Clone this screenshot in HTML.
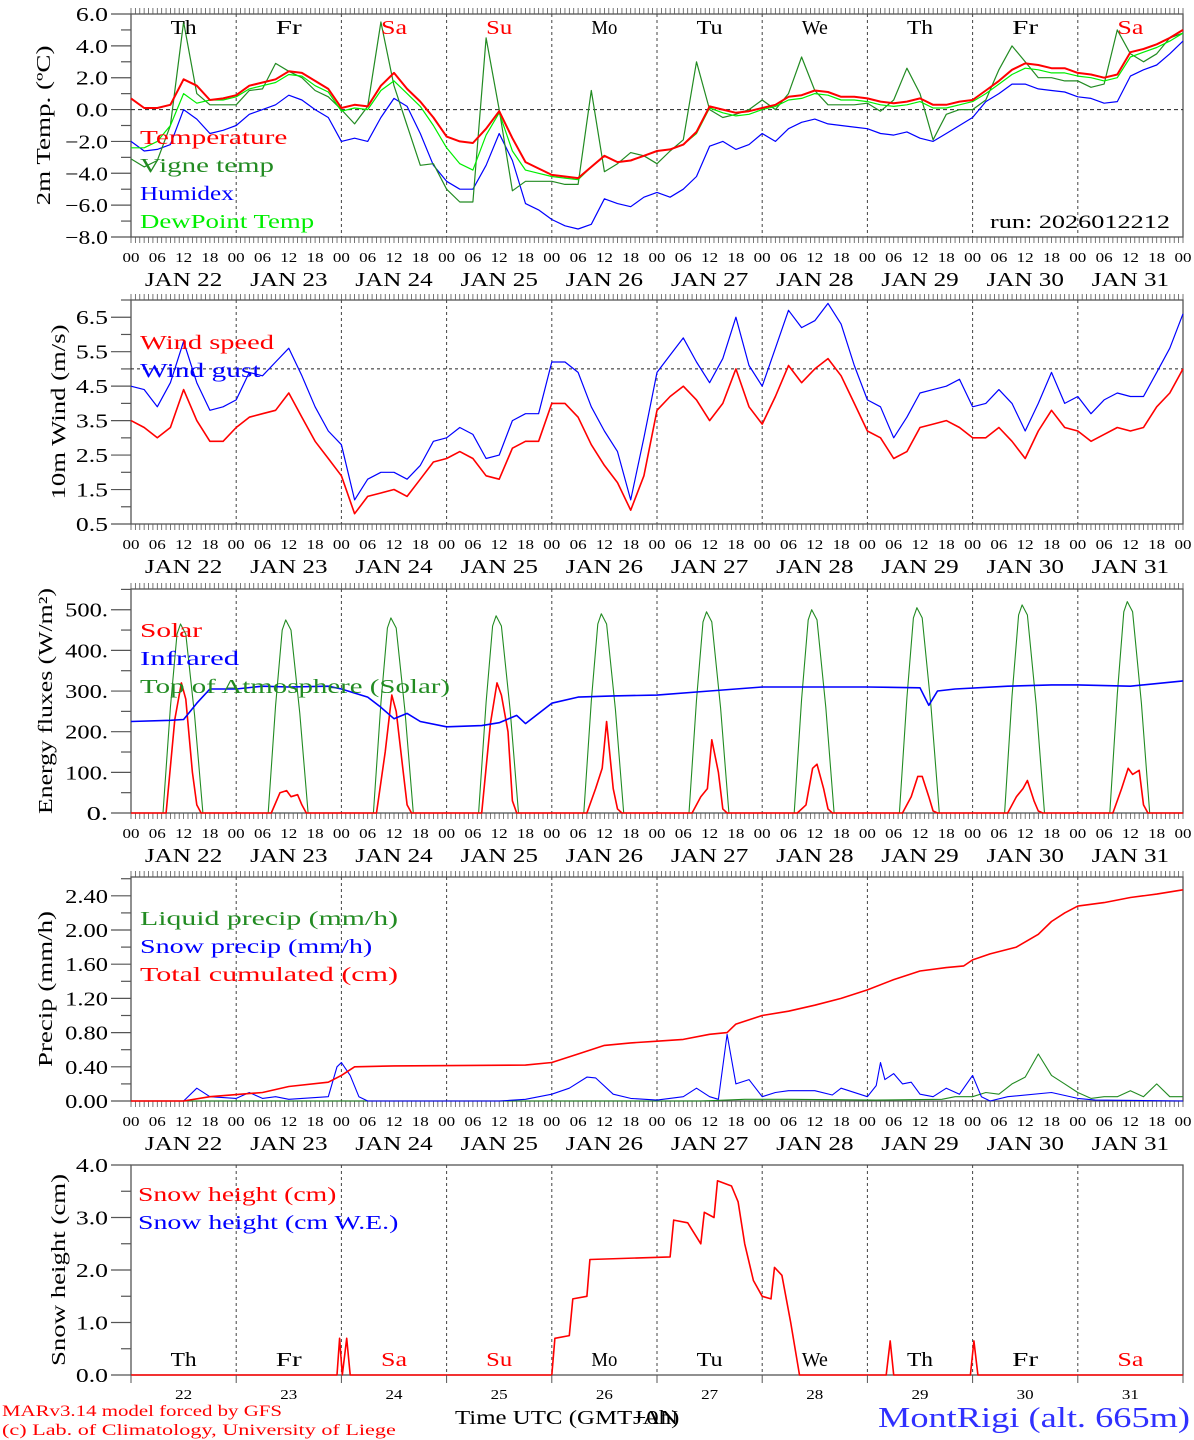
<!DOCTYPE html>
<html><head><meta charset="utf-8">
<style>
html,body{margin:0;padding:0;background:#fff;}
svg{display:block;font-family:"Liberation Serif",serif;}
</style></head>
<body>
<svg id="chart" width="1194" height="1440" viewBox="0 0 1194 1440" xmlns="http://www.w3.org/2000/svg"></svg>
<script>
// ---------- DATA ----------
const dayNames = ["Th","Fr","Sa","Su","Mo","Tu","We","Th","Fr","Sa"];
const weekendFlags = [0,0,1,1,0,0,0,0,0,1];
const dateLabels = ["JAN 22","JAN 23","JAN 24","JAN 25","JAN 26","JAN 27","JAN 28","JAN 29","JAN 30","JAN 31"];
const dayNums = ["22","23","24","25","26","27","28","29","30","31"];
const hourLabels = ["00","06","12","18"];

// panel 1 (3-hourly, t = 0..240 h)
const tempRed = [0.7,0.1,0.1,0.3,1.9,1.5,0.6,0.7,0.9,1.5,1.7,1.9,2.4,2.3,1.8,1.3,0.1,0.3,0.2,1.5,2.3,1.3,0.5,-0.5,-1.7,-2.0,-2.1,-1.2,-0.1,-1.8,-3.3,-3.7,-4.1,-4.2,-4.3,-3.6,-2.9,-3.3,-3.2,-2.9,-2.6,-2.5,-2.2,-1.4,0.2,0.0,-0.2,-0.1,0.1,0.3,0.8,0.9,1.2,1.1,0.8,0.8,0.7,0.5,0.4,0.5,0.7,0.3,0.3,0.5,0.6,1.2,1.8,2.5,2.9,2.8,2.6,2.6,2.3,2.2,2.0,2.2,3.6,3.8,4.1,4.5,5.0];
const vigneTemp = [-3.1,-3.6,-3.2,-1.0,5.5,1.0,0.3,0.3,0.3,1.2,1.3,2.9,2.4,2.0,1.2,0.8,0.0,-0.9,0.2,5.5,1.5,-1.0,-3.5,-3.4,-5.0,-5.8,-5.8,4.5,0.0,-5.1,-4.5,-4.5,-4.5,-4.7,-4.7,1.2,-3.9,-3.4,-2.7,-2.9,-3.4,-2.6,-1.9,3.0,0.0,-0.5,-0.3,0.0,0.6,0.0,1.0,3.3,1.2,0.3,0.3,0.3,0.4,-0.1,0.6,2.6,1.0,-1.9,-0.3,0.0,0.0,0.6,2.5,4.0,3.0,2.0,2.0,1.8,1.8,1.4,1.6,5.0,3.5,3.0,3.5,4.5,4.8];
const humidex = [-2.0,-2.6,-2.5,-2.2,0.0,-0.6,-1.5,-1.3,-1.0,-0.3,0.0,0.3,0.9,0.6,0.0,-0.5,-2.0,-1.8,-2.0,-0.5,0.7,0.2,-1.5,-3.5,-4.5,-5.0,-5.0,-3.5,-1.5,-3.2,-5.9,-6.3,-6.9,-7.3,-7.5,-7.2,-5.6,-5.9,-6.1,-5.5,-5.2,-5.5,-5.0,-4.2,-2.3,-2.0,-2.5,-2.2,-1.5,-2.0,-1.2,-0.8,-0.6,-0.9,-1.0,-1.1,-1.2,-1.5,-1.6,-1.4,-1.8,-2.0,-1.5,-1.0,-0.5,0.5,1.0,1.6,1.6,1.3,1.2,1.1,0.8,0.7,0.4,0.5,2.1,2.5,2.8,3.5,4.3];
const dewPoint = [-2.4,-2.4,-2.0,-1.0,1.0,0.4,0.6,0.6,0.8,1.3,1.5,1.7,2.2,2.1,1.5,1.1,-0.1,0.1,0.0,1.2,1.8,1.0,0.2,-1.0,-2.4,-3.4,-3.8,-1.6,-0.2,-2.6,-3.8,-4.0,-4.2,-4.3,-4.4,-3.6,-2.9,-3.3,-3.2,-2.9,-2.6,-2.5,-2.2,-1.5,0.1,-0.2,-0.4,-0.3,0.0,0.2,0.6,0.7,1.0,0.9,0.6,0.6,0.5,0.3,0.2,0.3,0.5,0.1,0.1,0.3,0.5,1.0,1.6,2.2,2.6,2.5,2.3,2.3,2.1,2.0,1.8,2.0,3.3,3.6,3.9,4.3,4.8];

// panel 2 (3-hourly)
const windSpeed = [3.5,3.3,3.0,3.3,4.4,3.5,2.9,2.9,3.3,3.6,3.7,3.8,4.3,3.6,2.9,2.4,1.9,0.8,1.3,1.4,1.5,1.3,1.8,2.3,2.4,2.6,2.4,1.9,1.8,2.7,2.9,2.9,4.0,4.0,3.6,2.8,2.2,1.7,0.9,1.9,3.8,4.2,4.5,4.1,3.5,4.0,5.0,3.9,3.4,4.2,5.1,4.6,5.0,5.3,4.8,4.0,3.2,3.0,2.4,2.6,3.3,3.4,3.5,3.3,3.0,3.0,3.3,2.9,2.4,3.2,3.8,3.3,3.2,2.9,3.1,3.3,3.2,3.3,3.9,4.3,5.0];
const windGust = [4.5,4.4,3.9,4.6,5.8,4.6,3.8,3.9,4.1,4.9,4.8,5.2,5.6,4.8,3.9,3.2,2.8,1.2,1.8,2.0,2.0,1.8,2.2,2.9,3.0,3.3,3.1,2.4,2.5,3.5,3.7,3.7,5.2,5.2,4.9,3.9,3.2,2.6,1.2,3.0,4.9,5.4,5.9,5.2,4.6,5.3,6.5,5.1,4.5,5.6,6.7,6.2,6.4,6.9,6.3,5.1,4.1,3.9,3.0,3.6,4.3,4.4,4.5,4.7,3.9,4.0,4.4,4.0,3.2,4.0,4.9,4.0,4.2,3.7,4.1,4.3,4.2,4.2,4.9,5.6,6.6];

// panel 3
const toaHours = [7.3,9,10.5,11.3,12.5,14.5,16.4];
const toaValues = [
 [0,260,440,465,440,240,0],[0,265,450,475,450,245,0],[0,270,455,480,455,250,0],[0,272,460,485,460,252,0],[0,275,465,490,465,255,0],
 [0,278,470,495,470,258,0],[0,280,475,500,475,260,0],[0,283,480,505,480,262,0],[0,287,487,512,487,266,0],[0,292,495,520,495,270,0]];
const solarHours = [8,10,11.5,12.5,14,15,16];
const solarValues = [
 [0,230,320,280,100,20,0],[0,50,55,40,45,20,0],[0,150,290,250,110,20,0],[0,220,320,290,200,30,0],[0,60,110,225,60,10,0],
 [0,40,60,180,100,10,0],[0,20,110,120,60,10,0],[0,40,90,90,40,5,0],[0,40,60,80,30,5,0],[0,60,110,95,105,20,0]];
const irHours = [0,9,12,15,18,24,30,36,45,48,54,57,60,63,66,72,80,84,88,90,96,102,110,120,132,144,168,180,182,184,188,200,210,216,228,240];
const irValues = [225,228,230,270,305,305,312,310,312,305,285,260,232,245,225,212,215,222,240,220,270,285,288,290,300,310,310,308,265,300,305,312,315,315,312,325];

// panel 4
const cumHours = [0,12,18,30,36,45,48,51,60,90,96,102,108,114,120,126,132,136,138,144,150,156,162,168,174,180,186,190,192,196,202,207,210,213,216,222,228,234,240];
const cumValues = [0,0,0.05,0.1,0.17,0.22,0.3,0.4,0.41,0.42,0.45,0.55,0.65,0.68,0.7,0.72,0.78,0.8,0.9,1.0,1.05,1.12,1.2,1.3,1.42,1.52,1.56,1.58,1.65,1.72,1.8,1.95,2.1,2.2,2.28,2.32,2.38,2.42,2.47];
const snowHours = [0,12,15,18,24,27,30,33,36,45,47,48,50,52,54,84,90,96,100,104,106,110,114,120,126,129,132,134,136,138,141,144,147,150,156,160,162,168,170,171,172,174,176,178,180,183,186,189,192,194,196,200,210,216,220,240];
const snowValues = [0,0,0.15,0.05,0.03,0.1,0.03,0.05,0.02,0.05,0.4,0.45,0.3,0.05,0,0,0.02,0.08,0.15,0.28,0.27,0.08,0.03,0.01,0.05,0.15,0.05,0.02,0.78,0.2,0.25,0.05,0.1,0.12,0.12,0.07,0.15,0.05,0.18,0.45,0.25,0.32,0.2,0.22,0.08,0.05,0.15,0.08,0.3,0.05,0.0,0.05,0.1,0.03,0.01,0];
const liquidHours = [0,130,140,150,170,185,188,192,195,198,201,204,207,210,213,216,219,222,225,228,231,234,237,240];
const liquidValues = [0,0,0.02,0.02,0.01,0.02,0.05,0.05,0.1,0.08,0.2,0.28,0.55,0.3,0.2,0.1,0.03,0.05,0.05,0.12,0.05,0.2,0.05,0.05];

// panel 5
const snowHHours = [0,47,47.6,48.2,49.2,50,50.8,96,96.7,100,100.8,104,104.7,123,123.8,127,130,130.8,133,133.8,137,138.5,140,142,144,146,146.8,148.5,150.5,152.5,172.3,173.2,174,191.5,192.3,193.2,240];
const snowHValues = [0,0,0.7,0,0.7,0,0,0,0.7,0.75,1.45,1.5,2.2,2.25,2.95,2.9,2.5,3.1,3.0,3.7,3.6,3.3,2.5,1.8,1.5,1.45,2.05,1.9,1.0,0,0,0.65,0,0,0.65,0,0];

// ---------- LAYOUT ----------
const SVGNS="http://www.w3.org/2000/svg";
const svg=document.getElementById('chart');
const X0=131, X1=1183;
function xs(t){return X0+(X1-X0)*t/240;}
function el(tag,attrs,parent){const e=document.createElementNS(SVGNS,tag);for(const k in attrs)e.setAttribute(k,attrs[k]);(parent||svg).appendChild(e);return e;}
function txt(s,x,y,size,fill,anchor,parent,cw){const e=el('text',{x:x,y:y,'font-size':size,fill:fill||'#000','text-anchor':anchor||'start'},parent);e.textContent=s;
 if(cw){e.setAttribute('textLength',(s.length*cw).toFixed(1));e.setAttribute('lengthAdjust','spacingAndGlyphs');}return e;}

const panels=[
 {top:14,bot:237,vmin:-8,vmax:6,major:[-8,-6,-4,-2,0,2,4,6],fmt:v=>v.toFixed(1).replace('-','−'),minor:1,title:"2m Temp. (ºC)",tx:50,tw:12.3},
 {top:300,bot:524,vmin:0.5,vmax:7.0,major:[0.5,1.5,2.5,3.5,4.5,5.5,6.5],fmt:v=>v.toFixed(1),minor:0.5,title:"10m Wind (m/s)",tx:65,tw:12.5},
 {top:589,bot:813,vmin:0,vmax:551,major:[0,100,200,300,400,500],fmt:v=>v+".",minor:50,title:"Energy fluxes (W/m²)",tx:52,tw:11.3},
 {top:877,bot:1101,vmin:0,vmax:2.62,major:[0,0.4,0.8,1.2,1.6,2.0,2.4],fmt:v=>v.toFixed(2),minor:0.2,title:"Precip (mm/h)",tx:52,tw:12},
 {top:1165,bot:1375,vmin:0,vmax:4.0,major:[0,1,2,3,4],fmt:v=>v.toFixed(1),minor:0.5,title:"Snow height (cm)",tx:65,tw:12}
];
function ys(p,v){return p.bot-(v-p.vmin)/(p.vmax-p.vmin)*(p.bot-p.top);}

panels.forEach((p,pi)=>{
 const g=el('g',{});
 
 
 const frame=el('rect',{x:X0,y:p.top,width:X1-X0,height:p.bot-p.top,fill:'none',stroke:'#555','stroke-width':1.3},g);
 
 
 for(let d=1;d<10;d++){
  const l=el('line',{x1:xs(d*24),x2:xs(d*24),y1:p.top,y2:p.bot,stroke:'#444','stroke-dasharray':'3,3','stroke-width':1},g);
  
  
 }
 for(let v=p.vmin;v<=p.vmax+1e-6;v+=p.minor){
  const y=ys(p,v);
  const isMaj=p.major.some(m=>Math.abs(m-v)<1e-6);
  el('line',{x1:X0-(isMaj?20:10),x2:X0,y1:y,y2:y,stroke:'#555','stroke-width':1.2},g);
 }
 p.major.forEach(v=>{
  const t=txt(p.fmt(v),108,ys(p,v)+7,20,'#000','end',g,10.7);
  
  
 });
 const tt=txt(p.title,0,0,20,'#000','middle',g,p.tw);
 tt.setAttribute('transform','translate('+p.tx+','+((p.top+p.bot)/2)+') rotate(-90)');
 
 
 if(pi<4){
  for(let h=0;h<=240;h++){
   const x=xs(h);
   el('line',{x1:x,x2:x,y1:p.top-6,y2:p.top,stroke:'#555','stroke-width':0.8},g);
   el('line',{x1:x,x2:x,y1:p.bot,y2:p.bot+6,stroke:'#555','stroke-width':0.8},g);
  }
  for(let h=0;h<=240;h+=6){
   const t=txt(hourLabels[(h/6)%4],xs(h),p.bot+25,14,'#000','middle',g,8.5);
   
   
  }
  dateLabels.forEach((s,d)=>{
   const t=txt(s,xs(d*24+12),p.bot+49,20,'#000','middle',g,12.9);
   
   
  });
 }
});

function series(pi,hours,vals,color,w,name){
 const p=panels[pi];
 const d=hours.map((h,i)=>(i?'L':'M')+xs(h).toFixed(1)+','+ys(p,vals[i]).toFixed(1)).join('');
 const e=el('path',{d:d,fill:'none',stroke:color,'stroke-width':w,'stroke-linejoin':'round'});
 
 
 return e;
}
const h3=tempRed.map((_,i)=>i*3);

// Panel 1
const z1=el('line',{x1:X0,x2:X1,y1:ys(panels[0],0),y2:ys(panels[0],0),stroke:'#222','stroke-dasharray':'4,3'});


series(0,h3,humidex,'#0000ff',1.2,'humidex-line');
series(0,h3,vigneTemp,'#228b22',1.2,'vigne-temp-line');
series(0,h3,dewPoint,'#00ee00',1.2,'dewpoint-line');
series(0,h3,tempRed,'#ff0000',2,'temperature-line');
dayNames.forEach((s,d)=>{
 const t=txt(s,xs(d*24+12),34,20,weekendFlags[d]?'#ff0000':'#000','middle',null,13);
 
 
});
[["Temperature","#ff0000"],["Vigne temp","#228b22"],["Humidex","#0000ff"],["DewPoint Temp","#00ee00"]].forEach((l,i)=>{
 const t=txt(l[0],140,144+i*28,20,l[1],'start',null,13.4);
 
 
});
const run=txt("run: 2026012212",1170,228,19,'#000','end',null,12);



// Panel 2
const z2=el('line',{x1:X0,x2:X1,y1:ys(panels[1],5),y2:ys(panels[1],5),stroke:'#222','stroke-dasharray':'3,3'});


series(1,h3,windGust,'#0000ff',1.2,'wind-gust-line');
series(1,h3,windSpeed,'#ff0000',1.6,'wind-speed-line');
[["Wind speed","#ff0000"],["Wind gust","#0000ff"]].forEach((l,i)=>{
 const t=txt(l[0],140,349+i*28,20,l[1],'start',null,13.4);
 
 
});

// Panel 3
function dayBlocks(hrs,vals){const H=[0],V=[0];vals.forEach((row,d)=>{hrs.forEach((h,i)=>{H.push(d*24+h);V.push(row[i]);});});H.push(240);V.push(0);return [H,V];}
const toa=dayBlocks(toaHours,toaValues);
series(2,toa[0],toa[1],'#228b22',1.1,'toa-solar-line');
const sol=dayBlocks(solarHours,solarValues);
series(2,sol[0],sol[1],'#ff0000',1.6,'solar-line');
series(2,irHours,irValues,'#0000ff',1.6,'infrared-line');
[["Solar","#ff0000"],["Infrared","#0000ff"],["Top of Atmosphere (Solar)","#228b22"]].forEach((l,i)=>{
 const t=txt(l[0],140,637+i*28,20,l[1],'start',null,12.4);
 
 
});

// Panel 4
series(3,liquidHours,liquidValues,'#228b22',1.1,'liquid-precip-line');
series(3,snowHours,snowValues,'#0000ff',1.1,'snow-precip-line');
series(3,cumHours,cumValues,'#ff0000',1.6,'total-cumulated-line');
[["Liquid precip (mm/h)","#228b22"],["Snow precip (mm/h)","#0000ff"],["Total cumulated (cm)","#ff0000"]].forEach((l,i)=>{
 const t=txt(l[0],140,925+i*28,20,l[1],'start',null,12.9);
 
 
});

// Panel 5
series(4,snowHHours,snowHValues,'#ff0000',1.6,'snow-height-line');
dayNames.forEach((s,d)=>{
 const t=txt(s,xs(d*24+12),1366,20,weekendFlags[d]?'#ff0000':'#000','middle',null,13);
 
 
});
dayNums.forEach((s,d)=>{
 const t=txt(s,xs(d*24+12),1399,14,'#000','middle',null,8.5);
 
 
});
for(let d=0;d<=10;d++){el('line',{x1:xs(d*24),x2:xs(d*24),y1:1375,y2:1383,stroke:'#555'});}
[["Snow height (cm)","#ff0000"],["Snow height (cm W.E.)","#0000ff"]].forEach((l,i)=>{
 const t=txt(l[0],138,1201+i*28,20,l[1],'start',null,12.4);
 
 
});

// footer
const f1=txt("MARv3.14 model forced by GFS",2,1416,16,'#ff0000','start',null,10);


const f2=txt("(c) Lab. of Climatology, University of Liege",2,1435,16,'#ff0000','start',null,8.95);


const xt=txt("Time UTC (GMT+0h)",455,1424,20,'#000','start',null,13.2);


const xt2=txt("JAN",633,1424,20,'#000','start',null,15);


const loc=txt("MontRigi (alt. 665m)",1190,1427,28,'#3030ff','end',null,15.6);


</script>
</body></html>
